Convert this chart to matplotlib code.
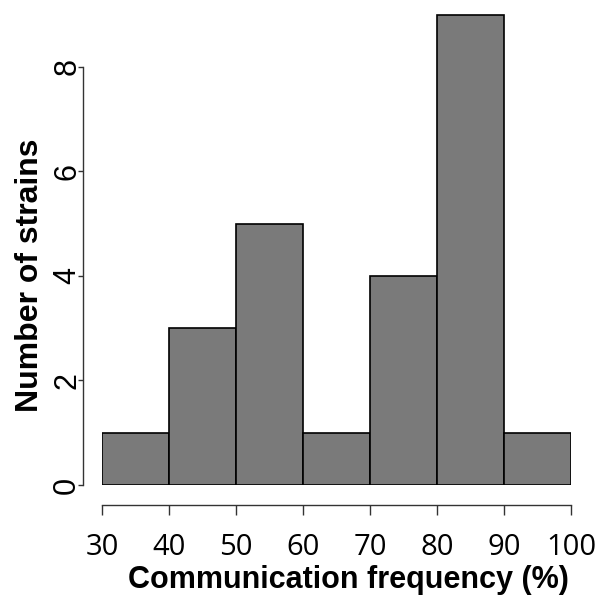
import matplotlib
matplotlib.use("Agg")
import matplotlib.pyplot as plt
import numpy as np

bin_edges = [30, 40, 50, 60, 70, 80, 90, 100]
counts = [1, 3, 5, 1, 4, 9, 1]
y_ticks = [0, 2, 4, 6, 8]
x_ticks = [30, 40, 50, 60, 70, 80, 90, 100]

W, H = 606, 603
fig = plt.figure(figsize=(W/100, H/100), dpi=100)
left, right = 102, 571
bottom_px, top_px = 485, 12
ax = fig.add_axes([left/W, (H-bottom_px)/H, (right-left)/W, (bottom_px-top_px)/H])

widths = np.diff(bin_edges)
ax.bar(bin_edges[:-1], counts, width=widths, align='edge',
       color='#7a7a7a', edgecolor='black', linewidth=1.2)

ax.set_xlim(30, 100)
ax.set_ylim(0, 9.05)

for s in ['top', 'right']:
    ax.spines[s].set_visible(False)
ax.spines['left'].set_position(('outward', 19 * 0.72))
ax.spines['left'].set_bounds(0, 8)
ax.spines['bottom'].set_position(('outward', 20 * 0.72))
ax.spines['bottom'].set_bounds(30, 100)
for s in ['left', 'bottom']:
    ax.spines[s].set_linewidth(1.0)
    ax.spines[s].set_color('#333333')

ax.set_yticks(y_ticks)
ax.set_yticklabels([str(v) for v in y_ticks], rotation=90, va='center',
                   fontsize=22, family='Liberation Sans')
ax.set_xticks(x_ticks)
ax.set_xticklabels([str(v) for v in x_ticks], fontsize=21, family='Open Sans')
ax.tick_params(axis='both', width=1.0, color='#333333')
ax.tick_params(axis='y', length=3.6, pad=-3)
ax.tick_params(axis='x', length=7, pad=13)

fig.text(348/W, 1 - 580/H, 'Communication frequency (%)', fontsize=22,
         fontweight='bold', family='Liberation Sans', ha='center', va='center')
fig.text(30/W, 1 - 275/H, 'Number of strains', fontsize=23,
         fontweight='bold', family='Liberation Sans', ha='center', va='center',
         rotation=90)

fig.savefig('out.png', dpi=100)
